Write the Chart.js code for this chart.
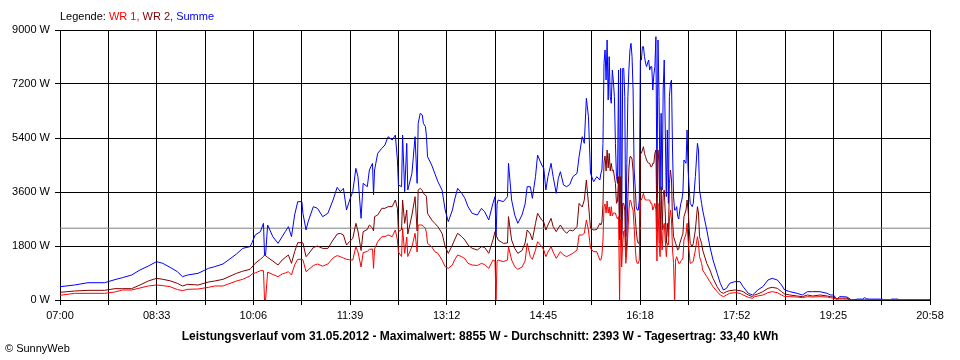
<!DOCTYPE html>
<html>
<head>
<meta charset="utf-8">
<script src="https://cdn.jsdelivr.net/npm/chart.js@4/dist/chart.umd.min.js"></script>
<style>
  html, body { margin: 0; padding: 0; background: #fff; }
  canvas { display: block; }
</style>
</head>
<body>
<canvas id="power-chart" width="960" height="360"></canvas>
<script>
// Leistungsverlauf 31.05.2012

const times = [
  '07:00','07:14','07:27','07:43','07:53','08:00','08:09','08:17','08:25','08:33','08:39','08:46','08:53','08:58','09:03','09:13','09:23','09:29',
  '09:37','09:50','09:56','10:03','10:05','10:08','10:13','10:16','10:17','10:18','10:20','10:25','10:30','10:34','10:37','10:40','10:43','10:46','10:49','10:53',
  '10:54','10:57','10:59','11:04','11:08','11:13','11:18','11:23','11:27','11:30','11:33','11:36','11:39','11:42','11:45','11:47','11:50','11:52','11:56','11:58',
  '12:01','12:02','12:03','12:06','12:10','12:13','12:16','12:20','12:23','12:25','12:26','12:29','12:30','12:32','12:34','12:35','12:39','12:42','12:44','12:45',
  '12:47','12:49','12:50','12:52','12:53','12:54','12:58','13:01','13:04','13:08','13:11','13:14','13:18','13:20','13:23','13:27','13:30','13:33','13:37','13:42',
  '13:46','13:49','13:53','13:57','13:59','14:00','14:01','14:02','14:07','14:11','14:12','14:15','14:18','14:21','14:25',
  '14:28','14:30','14:33','14:35','14:38','14:40','14:44','14:46','14:48','14:50','14:53','14:55','14:58','15:00','15:02','15:05','15:08','15:11','15:14','15:18',
  '15:20','15:23','15:25','15:27','15:29','15:31','15:34','15:37',
  '15:40','15:41','15:42','15:43','15:44','15:45','15:46','15:47','15:48','15:49','15:50','15:51','15:52','15:53','15:54','15:55','15:56','15:57','15:58','15:59',
  '16:00','16:01','16:02','16:03','16:04','16:05','16:06','16:07','16:08','16:09','16:10','16:11','16:12','16:13','16:14','16:15','16:16','16:17','16:18','16:19',
  '16:20','16:21','16:22','16:23','16:24','16:25','16:26','16:27','16:28','16:29','16:30','16:31','16:32','16:33','16:34','16:35','16:36','16:37','16:38','16:39',
  '16:40','16:41','16:42','16:43','16:44','16:45','16:46','16:47','16:48','16:49','16:50','16:51','16:52','16:53','16:54','16:55','16:56','16:57','16:58','16:59',
  '17:00',
  '17:01','17:03','17:04','17:05','17:07','17:09','17:10','17:12','17:14','17:15','17:16','17:18','17:19','17:23','17:26','17:29','17:33','17:36','17:39','17:42',
  '17:45','17:50','17:55','17:58','18:03','18:07','18:09','18:12','18:17','18:22','18:26','18:31','18:35','18:38','18:43','18:50','18:55','19:00','19:05','19:12',
  '19:19','19:22',
  '19:25','19:27','19:28','19:31','19:34','19:38','19:41','19:42','19:44','19:48','19:53','19:55','19:57','20:00','20:12','20:13','20:20','20:21','20:27','20:28','20:58'
];

// WR 1 (W)
const wr1 = [
  156,222,222,222,267,333,333,400,467,500,480,444,350,311,356,367,422,467,
  467,633,690,800,870,900,978,978,0,0,930,850,778,867,900,944,833,1167,1356,1356,
  1340,944,1000,1150,1200,1130,1200,1400,1480,1444,1400,1356,1340,1333,1778,1600,1100,1578,1620,1689,
  1700,1056,1700,1944,2111,2111,2167,2111,2333,2000,1600,1450,2389,1556,2100,1450,1778,2222,1600,2500,
  2500,2500,2450,2389,2222,1889,1778,1611,1556,1333,1111,1056,1167,1333,1500,1444,1378,1222,1167,1150,
  1222,1180,1056,1333,1300,0,1300,1333,1278,1333,1778,1333,1111,1022,1100,
  1300,1889,1444,1356,1667,1944,1778,1667,1444,1600,1778,1600,1389,1500,1611,1500,1444,1500,1556,1667,
  2167,2167,2222,2667,2333,1722,1611,1611,
  1333,1333,1500,2000,3111,3200,2900,3300,2900,3100,2800,3111,2800,2900,2900,2900,2778,2700,2778,0,
  2700,1100,1889,2300,2333,1222,1600,2222,3000,3333,3278,3100,3000,2444,1800,1333,1222,1222,1333,3333,
  3333,3444,3556,3400,3333,3333,3333,3333,3333,3222,3222,3000,3100,3222,3000,1300,3222,1900,1444,2333,
  1667,2400,2556,2000,1444,1889,1833,2667,3000,2667,1667,1222,0,1333,1444,1333,1222,1222,1300,1333,
  1400,
  2000,2200,2556,2000,1222,1250,1300,1667,2111,1900,1444,1222,1000,778,611,444,278,167,111,167,
  222,244,222,167,89,56,111,133,167,244,278,244,167,111,111,100,78,111,100,111,
  100,78,
  60,40,30,33,33,30,0,0,0,0,0,0,0,0,0,0,0,0,0,0,0
];

// WR 2 (W)
const wr2 = [
  256,300,322,322,378,378,378,500,633,722,690,640,555,467,522,500,600,633,
  689,889,960,1022,1100,1222,1356,1450,1500,1480,1420,1300,1167,1333,1420,1500,1222,1611,1911,1911,
  1900,1444,1520,1750,1800,1720,1720,2000,2200,2220,2167,1833,1950,2050,2556,2300,1650,2278,2350,2500,
  2400,2300,2778,2833,3056,3056,3111,3111,3333,3056,2278,2350,3333,2556,3000,2200,2833,3444,2300,3667,
  3722,3650,3556,3500,3444,2889,2667,2556,2444,2222,1778,1556,1833,2000,2222,2111,2000,1833,1722,1667,
  1778,1750,1556,2000,2278,2111,2100,2000,1889,1900,2778,2000,1722,1556,1650,
  1900,2333,2200,2000,2556,2889,2667,2600,2333,2500,2722,2450,2278,2400,2500,2333,2222,2333,2300,2444,
  3222,3100,3333,4000,3222,2389,2333,2350,
  2556,2500,2600,3200,4600,4800,4300,5000,4400,4889,4300,4556,4300,4333,4100,3889,3222,3300,4111,2000,
  4111,1800,3222,3222,3000,1444,2000,3444,4400,4778,4778,4700,4300,3222,2800,2333,2000,1889,1889,4889,
  4889,5000,5111,4889,4778,4667,4600,4556,4556,4444,4444,4556,4556,4889,5000,2300,5000,4556,1889,3778,
  2333,3500,3667,2900,1889,2556,2111,3889,4333,4000,2667,2111,2000,1889,1778,1667,1700,1889,2000,2111,
  2200,
  2778,3000,3333,3000,1889,1778,1889,2333,3111,2900,2111,1889,1667,1222,1000,722,444,278,222,278,
  311,333,311,278,167,111,167,200,278,389,422,389,278,200,167,133,111,167,133,167,
  133,111,
  100,70,40,60,60,60,20,0,0,0,0,0,0,0,0,0,0,0,0,0,0
];

// Summe (W)
const summe = [
  443,500,577,577,680,743,833,1000,1130,1278,1222,1089,945,778,833,889,1055,1111,
  1200,1533,1722,1778,1911,2167,2278,2556,1500,1480,2500,2111,1889,2111,2278,2444,2111,2833,3278,3278,
  2889,2333,2611,3111,3056,2778,2889,3333,3756,3611,3722,3000,3333,3611,4389,4111,2722,3889,3778,4333,
  4556,3500,4333,4889,5056,5167,5444,5333,5500,4667,3833,3778,5500,3611,5222,3667,4222,5444,3889,5889,
  6222,6167,5889,5778,5444,4778,4500,4222,3944,3667,3000,2611,3000,3333,3722,3556,3389,3111,2889,2833,
  3056,2944,2667,3222,3444,2111,3200,3333,3278,3444,4556,3333,2833,2556,2833,
  3200,3778,3778,3389,4111,4833,4500,4389,3667,4111,4556,4111,3556,4056,4278,3833,3778,3850,4111,4222,
  4778,5444,5222,6722,6111,4222,3944,4111,
  4000,4222,4333,5222,7889,8333,7333,8667,6667,8111,6778,6556,7667,7300,6778,5222,4111,3889,7667,2111,
  7722,2200,7722,7722,6778,2111,4556,6778,7700,8333,8556,8111,7000,4333,3800,3111,3000,3000,3333,8000,
  8000,8444,8444,8111,7900,7778,7900,8000,7667,7778,7778,7000,7500,7778,8778,3444,8667,6778,3667,6222,
  3667,7000,8000,5667,3444,5667,3222,6778,7222,7333,5000,3444,3000,3000,3111,2778,2700,3000,3222,3333,
  3600,
  4667,4556,5667,4333,3222,3111,3222,4111,5222,5000,3667,3222,3000,2333,1778,1333,889,556,333,389,
  556,611,611,444,222,167,222,333,444,667,722,667,500,333,278,222,167,278,278,278,
  222,167,
  167,80,22,111,111,100,33,0,0,30,30,78,40,30,30,0,0,30,30,0,0
];

const average = 2393;
const xTickLabels = ['07:00','','08:33','','10:06','','11:39','','13:12','','14:45','','16:18','','17:52','','19:25','','20:58'];
const yTicks = [0, 1800, 3600, 5400, 7200, 9000];

const legendParts = [['Legende: ', '#000000'], ['WR 1, ', '#ff0000'], ['WR 2, ', '#800000'], ['Summe', '#0000ff']];
const footerText = 'Leistungsverlauf vom 31.05.2012 - Maximalwert: 8855 W - Durchschnitt: 2393 W - Tagesertrag: 33,40 kWh';
const copyrightText = '\u00A9 SunnyWeb';

const DAY_START = 7 * 60;
const DAY_LENGTH = 838; // 07:00 .. 20:58

function toMinutes(t) {
    const [h, m] = t.split(':').map(Number);
    return h * 60 + m - DAY_START;
}

function series(values) {
    return values.map((v, i) => ({ x: toMinutes(times[i]), y: v }));
}

const FONT = '"Liberation Sans", Arial, sans-serif';
Chart.defaults.font.family = FONT;
Chart.defaults.font.size = 11;
Chart.defaults.color = '#000';

// legend line on top, footer and copyright at the bottom
const textPlugin = {
    id: 'sunnyText',
    afterDraw(chart) {
        const ctx = chart.ctx;
        ctx.save();
        ctx.textBaseline = 'middle';
        ctx.font = '11px ' + FONT;
        let x = chart.chartArea.left;
        legendParts.forEach(([txt, col]) => {
            ctx.fillStyle = col;
            ctx.fillText(txt, x, 17);
            x += ctx.measureText(txt).width;
        });
        ctx.fillStyle = '#000';
        ctx.textAlign = 'left';
        ctx.fillText(copyrightText, 5, 349);
        ctx.font = 'bold 12px ' + FONT;
        ctx.textAlign = 'center';
        ctx.fillText(footerText, chart.width / 2, 337);
        ctx.restore();
    }
};

const lineStyle = { borderWidth: 1, pointRadius: 0, tension: 0, fill: false };

new Chart(document.getElementById('power-chart'), {
    type: 'line',
    data: {
        datasets: [
            { label: 'WR 1', data: series(wr1), borderColor: '#ff0000', ...lineStyle },
            { label: 'WR 2', data: series(wr2), borderColor: '#800000', ...lineStyle },
            { label: 'Summe', data: series(summe), borderColor: '#0000ff', ...lineStyle },
            {
                label: 'Durchschnitt',
                data: [{ x: 0, y: average }, { x: DAY_LENGTH, y: average }],
                borderColor: '#808080',
                ...lineStyle
            }
        ]
    },
    options: {
        responsive: false,
        animation: false,
        layout: { padding: { top: 30, right: 30, left: 0, bottom: 0 } },
        plugins: {
            legend: { display: false },
            tooltip: { enabled: false }
        },
        scales: {
            x: {
                type: 'linear',
                min: 0,
                max: DAY_LENGTH,
                z: 1,
                afterFit: (scale) => { scale.height = 60; },
                afterBuildTicks: (scale) => {
                    scale.ticks = xTickLabels.map((_, i) => ({ value: i * DAY_LENGTH / (xTickLabels.length - 1) }));
                },
                grid: { color: '#000', lineWidth: 1, tickLength: 5 },
                border: { color: '#000', width: 1 },
                ticks: {
                    autoSkip: false,
                    maxRotation: 0,
                    padding: 4,
                    callback: (value, index) => xTickLabels[index]
                }
            },
            y: {
                min: 0,
                max: 9000,
                z: 1,
                afterFit: (scale) => { scale.width = 60; },
                afterBuildTicks: (scale) => {
                    scale.ticks = yTicks.map(v => ({ value: v }));
                },
                grid: { color: '#000', lineWidth: 1, tickLength: 5 },
                border: { color: '#000', width: 1 },
                ticks: {
                    padding: 5,
                    callback: (value) => value + ' W'
                }
            }
        }
    },
    plugins: [textPlugin]
});
</script>
</body>
</html>
